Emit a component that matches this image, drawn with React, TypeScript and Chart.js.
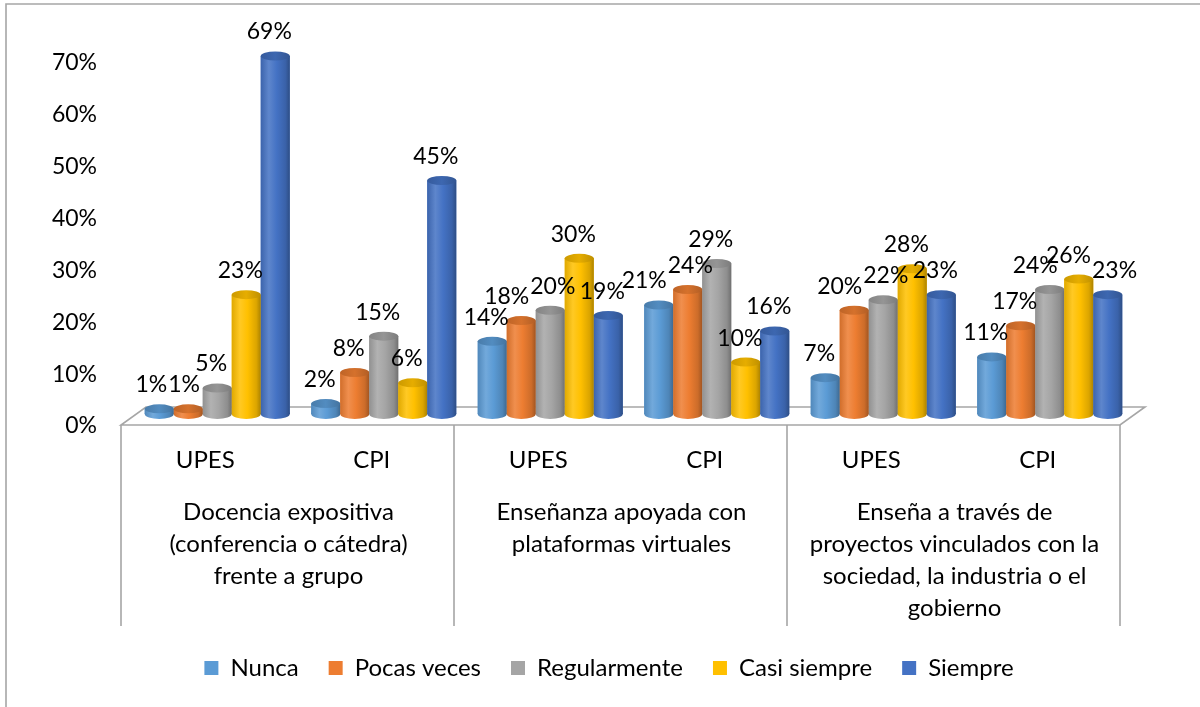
import React, { useEffect, useRef } from 'react';
import { Chart, registerables } from 'chart.js';

Chart.register(...registerables);

// ---- data ----
const subCategories = ['UPES', 'CPI', 'UPES', 'CPI', 'UPES', 'CPI'];
const groupLabels = [
  ['Docencia expositiva', '(conferencia o cátedra)', 'frente a grupo'],
  ['Enseñanza apoyada con', 'plataformas virtuales'],
  ['Enseña a través de', 'proyectos vinculados con la', 'sociedad, la industria o el', 'gobierno'],
];
const seriesNames = ['Nunca', 'Pocas veces', 'Regularmente', 'Casi siempre', 'Siempre'];
const nunca = [1, 2, 14, 21, 7, 11];
const pocasVeces = [1, 8, 18, 24, 20, 17];
const regularmente = [5, 15, 20, 29, 22, 24];
const casiSiempre = [23, 6, 30, 10, 28, 26];
const siempre = [69, 45, 19, 16, 23, 23];
const yTickValues = [0, 10, 20, 30, 40, 50, 60, 70];
const seriesColors = ['#5B9BD5', '#ED7D31', '#A5A5A5', '#FFC000', '#4472C4'];

const seriesValues = [nunca, pocasVeces, regularmente, casiSiempre, siempre];

const FONT = 'Lato';
const FS_TEXT = 24;
const FS_NUM = 23;
const GREY = '#A6A6A6';

function hexToRgb(h: string) {
  const n = parseInt(h.slice(1), 16);
  return [(n >> 16) & 255, (n >> 8) & 255, n & 255];
}
function mix(h: string, target: number, t: number) {
  const [r, g, b] = hexToRgb(h);
  const f = (c: number) => Math.round(c + (target - c) * t);
  return `rgb(${f(r)},${f(g)},${f(b)})`;
}

const cylinderPlugin = {
  id: 'cyl3d',
  beforeDraw(chart: any) {
    const { ctx } = chart;
    ctx.save();
    ctx.strokeStyle = GREY;
    ctx.lineWidth = 1.6;
    ctx.beginPath();
    ctx.moveTo(6, 707);
    ctx.lineTo(6, 4);
    ctx.lineTo(1200, 4);
    ctx.stroke();
    ctx.restore();
  },
  beforeDatasetsDraw(chart: any) {
    const { ctx, chartArea, scales } = chart;
    const { left, right, bottom } = chartArea;
    const fy = bottom + 11;
    const by = bottom - 7;
    ctx.save();
    // floor
    ctx.beginPath();
    ctx.moveTo(left - 13, fy);
    ctx.lineTo(right - 13, fy);
    ctx.lineTo(right + 12, by);
    ctx.lineTo(left + 12, by);
    ctx.closePath();
    ctx.fillStyle = '#FFFFFF';
    ctx.fill();
    ctx.strokeStyle = GREY;
    ctx.lineWidth = 1.6;
    ctx.stroke();
    // group separators
    const x2 = scales.x2;
    const gw = (right - left) / groupLabels.length;
    ctx.beginPath();
    for (let k = 0; k <= groupLabels.length; k++) {
      const x = left - 13 + k * gw;
      ctx.moveTo(x, fy);
      ctx.lineTo(x, x2.bottom);
    }
    ctx.stroke();
    ctx.restore();
  },
  afterDatasetsDraw(chart: any) {
    const { ctx } = chart;
    ctx.save();
    const n = subCategories.length;
    const labelBoxes: any[] = [];
    ctx.font = `${FS_NUM}px ${FONT}`;
    for (let i = 0; i < n; i++) {
      let prev: any = null;
      for (let d = 0; d < seriesValues.length; d++) {
        const meta = chart.getDatasetMeta(d);
        const el: any = meta.data[i];
        if (!el) continue;
        const { x, y, base, width } = el.getProps(['x', 'y', 'base', 'width'], true);
        const c = seriesColors[d];
        const l = x - width / 2;
        const r = x + width / 2;
        const rx = width / 2;
        const ryT = 4.5;
        const ryB = 5;
        const grad = ctx.createLinearGradient(l, 0, r, 0);
        grad.addColorStop(0, mix(c, 0, 0.12));
        grad.addColorStop(0.28, mix(c, 255, 0.14));
        grad.addColorStop(0.55, c);
        grad.addColorStop(0.85, mix(c, 0, 0.14));
        grad.addColorStop(1, mix(c, 0, 0.32));
        ctx.fillStyle = grad;
        ctx.beginPath();
        ctx.ellipse(x, base, rx, ryB, 0, 0, Math.PI * 2);
        ctx.fill();
        ctx.fillRect(l, y, width, base - y);
        ctx.beginPath();
        ctx.ellipse(x, y, rx, ryT, 0, 0, Math.PI * 2);
        const tg = ctx.createLinearGradient(l, 0, r, 0);
        tg.addColorStop(0, mix(c, 0, 0.2));
        tg.addColorStop(0.5, mix(c, 0, 0.1));
        tg.addColorStop(1, mix(c, 0, 0.25));
        ctx.fillStyle = tg;
        ctx.fill();

        // data label (simple collision split between neighbours)
        const txt = seriesValues[d][i] + '%';
        const tw = ctx.measureText(txt).width;
        const box: any = { txt, cx: x - 6, cy: y - 24, w: tw };
        if (prev && Math.abs(prev.cy - box.cy) < 17) {
          const ov = prev.cx + prev.w / 2 + 1 - (box.cx - box.w / 2);
          if (ov > 0) {
            prev.cx -= ov / 2;
            box.cx += ov / 2;
          }
        }
        prev = box;
        labelBoxes.push(box);
      }
    }
    ctx.fillStyle = '#000';
    ctx.textAlign = 'center';
    ctx.textBaseline = 'middle';
    for (const b of labelBoxes) ctx.fillText(b.txt, b.cx, b.cy);
    ctx.restore();
  },
};

export default function App() {
  const ref = useRef<HTMLCanvasElement>(null);
  useEffect(() => {
    if (!ref.current) return;
    Chart.defaults.font.family = FONT;
    Chart.defaults.color = '#000';
    const chart = new Chart(ref.current, {
      type: 'bar',
      data: {
        labels: subCategories,
        datasets: seriesNames.map((name, d) => ({
          label: name,
          data: seriesValues[d],
          backgroundColor: seriesColors[d],
          borderWidth: 0,
          categoryPercentage: 0.871,
          barPercentage: 1,
          xAxisID: 'x',
          yAxisID: 'y',
        })),
      },
      options: {
        animation: false,
        responsive: false,
        devicePixelRatio: 1,
        layout: { padding: { left: 18, right: 0, top: 50, bottom: 17 } },
        plugins: {
          legend: {
            position: 'bottom',
            labels: {
              font: { size: FS_TEXT, family: FONT },
              color: '#000',
              boxWidth: 14,
              boxHeight: 14,
              padding: 30,
            },
          },
          tooltip: { enabled: false },
        },
        scales: {
          y: {
            min: 0,
            max: 70,
            afterBuildTicks: (s: any) => {
              s.ticks = yTickValues.map((v) => ({ value: v }));
            },
            afterFit: (s: any) => {
              s.width = 116;
            },
            grid: { display: false, drawTicks: false },
            border: { display: false },
            ticks: {
              font: { size: FS_NUM, family: FONT },
              color: '#000',
              padding: 37,
              labelOffset: 12,
              callback: (v: any) => v + '%',
            },
          },
          yr: {
            type: 'linear',
            position: 'right',
            display: true,
            afterFit: (s: any) => {
              s.width = 67;
            },
            grid: { display: false, drawTicks: false },
            border: { display: false },
            ticks: { display: false },
          },
          x: {
            type: 'category',
            afterFit: (s: any) => {
              s.height = 60;
            },
            grid: { display: false, drawTicks: false },
            border: { display: false },
            ticks: {
              font: { size: FS_TEXT, family: FONT },
              color: '#000',
              padding: 32,
              labelOffset: -12,
              maxRotation: 0,
              autoSkip: false,
            },
          },
          x2: {
            type: 'category',
            position: 'bottom',
            weight: 1,
            labels: groupLabels as any,
            offset: true,
            afterFit: (s: any) => {
              s.height = 152;
            },
            grid: { display: false, drawTicks: false },
            border: { display: false },
            ticks: {
              font: { size: FS_TEXT, family: FONT, lineHeight: 32 / FS_TEXT },
              color: '#000',
              padding: 22,
              labelOffset: -12,
              maxRotation: 0,
              autoSkip: false,
            },
          },
        },
      },
      plugins: [cylinderPlugin],
    } as any);
    return () => chart.destroy();
  }, []);
  return (
    <div style={{ position: 'absolute', left: 0, top: 0, width: 1200, height: 707, background: '#fff' }}>
      <canvas ref={ref} width={1200} height={707} style={{ display: 'block' }} />
    </div>
  );
}
